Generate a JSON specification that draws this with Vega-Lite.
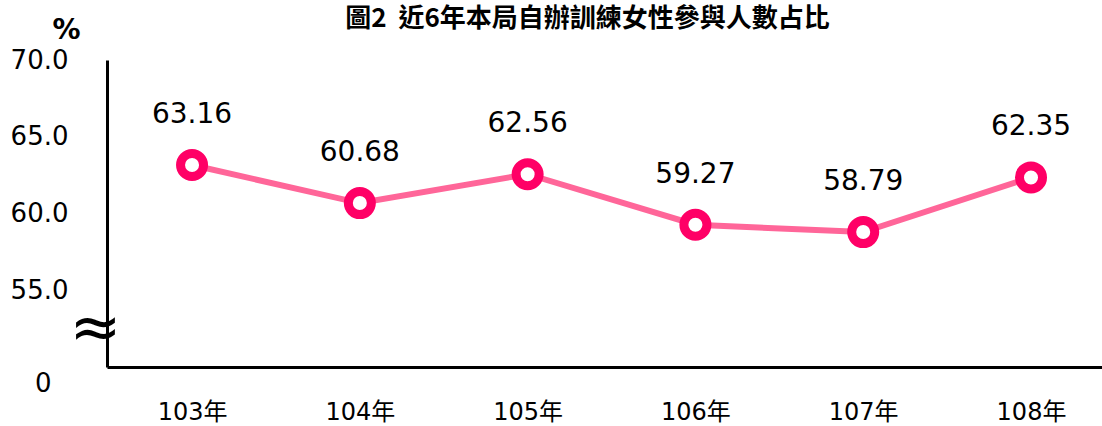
{
  "$schema": "https://vega.github.io/schema/vega-lite/v6.json",
  "autosize": {"type": "none"},
  "width": 995,
  "height": 307,
  "padding": {"left": 107, "top": 60, "right": 0, "bottom": 59},
  "background": "white",
  "title": {
    "text": "圖2\u00a0\u00a0近6年本局自辦訓練女性參與人數占比",
    "font": "Noto Sans CJK TC",
    "fontSize": 26,
    "fontWeight": "bold",
    "color": "#000000",
    "anchor": "middle",
    "dx": -17,
    "offset": -16
  },
  "config": {"view": {"stroke": null}},
  "data": {
    "values": [
      {"year": "103年", "pct": 63.16},
      {"year": "104年", "pct": 60.68},
      {"year": "105年", "pct": 62.56},
      {"year": "106年", "pct": 59.27},
      {"year": "107年", "pct": 58.79},
      {"year": "108年", "pct": 62.35}
    ]
  },
  "encoding": {
    "x": {
      "field": "year",
      "type": "ordinal",
      "sort": null,
      "scale": {"type": "point", "padding": 0.465, "align": 0.545},
      "axis": {
        "title": null,
        "labelAngle": 0,
        "labelFont": "DejaVu Sans, Noto Sans CJK TC",
        "labelFontSize": 24,
        "labelColor": "#000000",
        "labelPadding": 33,
        "ticks": false,
        "domainColor": "#000000",
        "domainWidth": 3,
        "grid": false
      }
    },
    "y": {
      "field": "pct",
      "type": "quantitative",
      "scale": {"domain": [50, 70], "nice": false, "zero": false},
      "axis": {
        "title": "%",
        "titleAngle": 0,
        "titleX": -41,
        "titleY": -30,
        "titleAlign": "center",
        "titleBaseline": "middle",
        "titleFont": "DejaVu Sans",
        "titleFontSize": 28,
        "titleFontWeight": "bold",
        "titleColor": "#000000",
        "values": [50, 52.5, 55, 60, 65, 70],
        "labelExpr": "datum.value == 50 ? '0' : (datum.value < 53 ? '≈' : format(datum.value, '.1f'))",
        "labelFont": "DejaVu Sans",
        "labelFontSize": {"condition": {"test": "datum.value > 52 && datum.value < 53", "value": 62}, "value": 26},
        "labelColor": "#000000",
        "labelPadding": {"condition": [{"test": "datum.value == 50", "value": 56}, {"test": "datum.value > 52 && datum.value < 53", "value": -14}], "value": 39},
        "labelOffset": {"condition": {"test": "datum.value == 50", "value": 16}, "value": 0},
        "ticks": false,
        "grid": false,
        "domainColor": "#000000",
        "domainWidth": 3
      }
    }
  },
  "layer": [
    {"mark": {"type": "line", "color": "#FF6699", "strokeWidth": 6}},
    {"mark": {"type": "point", "shape": "circle", "filled": true, "fill": "#FFFFFF", "stroke": "#FF0066", "strokeWidth": 9, "size": 530, "opacity": 1}},
    {
      "mark": {"type": "text", "dy": -50, "font": "DejaVu Sans", "fontSize": 28, "color": "#000000"},
      "encoding": {"text": {"field": "pct", "type": "quantitative", "format": ".2f"}}
    }
  ]
}
